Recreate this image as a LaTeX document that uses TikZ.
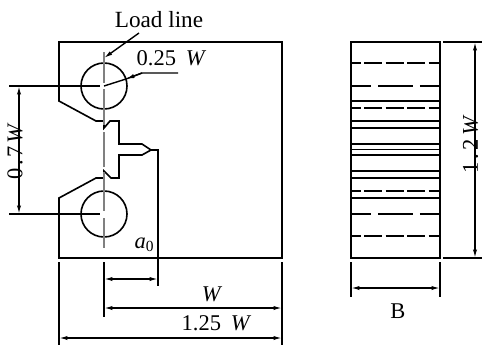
\documentclass[tikz,border=0pt]{standalone}
\usepackage{fontspec}
\setmainfont{Liberation Serif}
\usetikzlibrary{arrows.meta}
\tikzset{
  part/.style={line width=1.15pt,line join=miter},
  dim/.style={line width=1pt},
  dimarr/.style={line width=1pt,{Latex[length=6pt,width=3pt]}-{Latex[length=6pt,width=3pt]}},
  tiparr/.style={line width=1pt,-{Latex[length=6pt,width=3pt]}},
  centre/.style={line width=1pt,black!50},
  hidden/.style={line width=1pt,dash pattern=on 13pt off 2.3pt,dash phase=6pt},
  hiddenlong/.style={line width=1pt,dash pattern=on 24.8pt off 5pt,dash phase=10.6pt},
  lab/.style={inner sep=0pt,font=\fontsize{16}{18}\selectfont},
}
\begin{document}
\begin{tikzpicture}[x=.025cm,y=-.025cm]
\useasboundingbox (0,0) rectangle (482,345);

% front view
\draw[part] (119,121) -- (110,121) -- (104,128) -- (104,121) -- (96,121) -- (59,101) -- (59,42) -- (282,42) -- (282,258) -- (59,258) -- (59,198) -- (96,178) -- (104,178) -- (104,171) -- (111,178) -- (119,178) -- (119,155) -- (142,155) -- (151,150) -- (142,144) -- (119,144) -- cycle;
\draw[part] (104,86) circle (23);
\draw[part] (104,214) circle (23);

\coordinate (tip) at (151,150);

% centre line
\draw[centre] (104,52) -- (104,83);
\draw[centre] (104,89) -- (104,125);
\draw[centre] (104,132) -- (104,167);
\draw[centre] (104,172) -- (104,211);
\draw[centre] (104,218) -- (104,248);

% labels and leaders
\node[lab,font=\fontsize{16.5}{18}\selectfont] (loadlabel) at (159,20) {Load line};
\coordinate (loadfrom) at (139,33);
\coordinate (loadto) at (104,58);
\draw[tiparr] (loadfrom) -- (loadto);

\node[lab] (dialabel) at (171.5,58) {0.25\hspace{7pt}\textit{W}};
\coordinate (diaknee) at (142,73);
\coordinate (diaend) at (178,73);
\coordinate (diaedge) at (126,79);
\draw[dim] (diaend) -- (diaknee) -- (diaedge) -- (104,86);
\draw[tiparr] (diaknee) -- (diaedge);

% 0.7 W
\coordinate (extA) at (9,86);
\coordinate (extB) at (9,214);
\draw[dim] (extA) -- (100,86);
\draw[dim] (extB) -- (100,214);
\draw[dimarr] (19,86) -- (19,214);
\node[lab,rotate=90] (spacing) at (15,151.5) {0\hspace{1.8pt}.\hspace{1.8pt}7\hspace{2pt}\textit{W}};

% a0, W, 1.25 W
\draw[dim] (tip) -- (158,150) -- (158,286);
\draw[dim] (104,262) -- (104,317);
\draw[dim] (59,262) -- (59,345);
\draw[dim] (282,262) -- (282,345);
\draw[dimarr] (104,279) -- (158,279);
\draw[dimarr] (104,308) -- (282,308);
\draw[dimarr] (59,338) -- (282,338);
\node[lab] (crack) at (144,245) {\textit{a}\raisebox{-.3ex}{\fontsize{11}{12}\selectfont 0}};
\node[lab] (widthlabel) at (212,294) {\textit{W}};
\node[lab] (lengthlabel) at (216.5,323) {1.25\hspace{7pt}\textit{W}};

% side view
\draw[part] (351,42) rectangle (440,258);
\draw[hidden] (351,63) -- (440,63);
\draw[hiddenlong] (351,86) -- (440,86);
\draw[dim] (351,101) -- (440,101);
\draw[hidden] (351,108) -- (440,108);
\draw[part] (351,121) -- (440,121);
\draw[dim] (351,128) -- (440,128);
\draw[dim] (351,144) -- (440,144);
\draw[dim,line width=.6pt] (351,149) -- (440,149);
\draw[dim] (351,155) -- (440,155);
\draw[dim] (351,171) -- (440,171);
\draw[part] (351,178) -- (440,178);
\draw[hidden] (351,191) -- (440,191);
\draw[dim] (351,198) -- (440,198);
\draw[hiddenlong] (351,214) -- (440,214);
\draw[hidden] (351,236) -- (440,236);

% 1.2 W and B
\draw[dim] (443,42) -- (482,42);
\draw[dim] (443,258) -- (482,258);
\draw[dimarr] (475,42) -- (475,258);
\node[lab,rotate=90] (heightlabel) at (470.5,144) {1\hspace{2pt}.\hspace{2pt}2\hspace{3pt}\textit{W}};
\draw[dim] (351,262) -- (351,297);
\draw[dim] (440,262) -- (440,297);
\draw[dimarr] (351,288) -- (440,288);
\node[lab] (thicklabel) at (398,311) {B};
\end{tikzpicture}
\end{document}
